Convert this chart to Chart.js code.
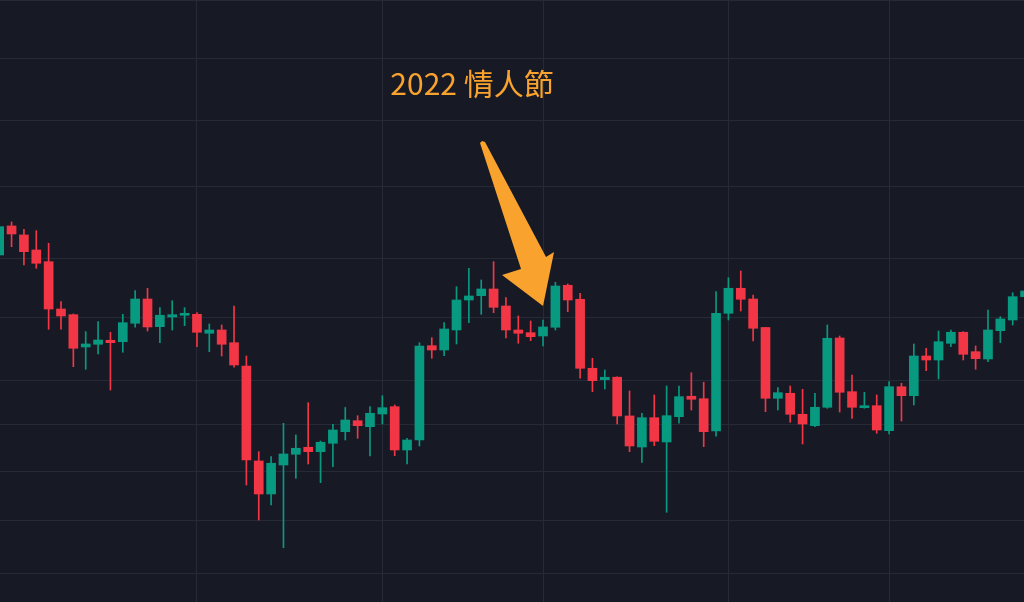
<!DOCTYPE html>
<html>
<head>
<meta charset="utf-8">
<script src="https://cdn.jsdelivr.net/npm/chart.js@4.4.1/dist/chart.umd.min.js"></script>
<style>
html,body{margin:0;padding:0;background:#171A25;overflow:hidden;}
#c{display:block;background:#171A25;}
</style>
</head>
<body>
<canvas id="c" width="1024" height="602"></canvas>
<script>
// ---- categories (daily candles, 2022) ----
const dates = [
 '01-01','01-02','01-03','01-04','01-05','01-06','01-07','01-08','01-09','01-10',
 '01-11','01-12','01-13','01-14','01-15','01-16','01-17','01-18','01-19','01-20',
 '01-21','01-22','01-23','01-24','01-25','01-26','01-27','01-28','01-29','01-30',
 '01-31','02-01','02-02','02-03','02-04','02-05','02-06','02-07','02-08','02-09',
 '02-10','02-11','02-12','02-13','02-14','02-15','02-16','02-17','02-18','02-19',
 '02-20','02-21','02-22','02-23','02-24','02-25','02-26','02-27','02-28','03-01',
 '03-02','03-03','03-04','03-05','03-06','03-07','03-08','03-09','03-10','03-11',
 '03-12','03-13','03-14','03-15','03-16','03-17','03-18','03-19','03-20','03-21',
 '03-22','03-23','03-24','03-25'
];
// ---- series values (OHLC) ----
const open = [
 46214,47789,47295,46481,45857,43418,43134,41555,41685,41877,
 41809,42709,43923,42541,43020,43105,43154,42218,42379,41761,
 40653,36428,35066,36260,36712,37010,36822,37181,37682,38163,
 37901,38460,38786,36894,37322,41617,41411,42379,43872,44091,
 44434,43570,42379,42247,42086,42512,44625,43908,40545,40014,
 40130,38372,37022,38296,37236,38341,39255,39146,37713,43204,
 44470,43923,42502,39164,39391,38447,37944,38759,41989,39464,
 38741,38831,37726,39692,39282,41125,40935,41733,42267,41330,
 40983,42345,42871,44040
];
const high = [
 47899,48010,47607,47530,46843,43786,43169,42296,42787,42267,
 43154,44346,44470,43484,43837,43484,43234,42674,42625,43570,
 41125,36822,36610,38049,37539,38966,37279,38006,38750,38385,
 38786,39282,38862,37396,41761,42003,42738,44552,45509,44898,
 45857,43989,43070,42822,42871,44779,44692,44214,41016,40465,
 40150,39496,38491,39314,39725,39725,40339,39894,44295,45018,
 45367,44127,42502,39647,39725,39573,39391,42625,42086,40233,
 39437,39314,39922,39849,41699,41493,42330,42379,42296,41603,
 43368,43036,44244,44500
];
const low = [
 46107,46659,45683,45509,42413,42413,40620,40498,41221,39541,
 41302,42512,42330,41761,42379,42591,41569,41330,41125,40592,
 35433,34028,34624,32958,35707,36302,35527,36189,37322,37396,
 36640,38019,36652,36302,37065,41016,41140,41699,42738,43154,
 43234,41989,41733,41857,41603,42379,43284,40079,39464,39587,
 38019,36822,36365,37078,34333,38049,38638,37035,37483,42871,
 43318,41843,38563,38638,38093,37151,37901,38714,38549,38269,
 38714,37613,37582,38150,38862,40432,40047,41569,40935,40498,
 40855,41761,42625,43700
];
const close = [
 47750,47349,46390,45773,43418,43070,41493,41699,41891,41761,
 42738,43923,42527,43105,43134,43204,42267,42379,41685,40700,
 36470,35066,36332,36724,36967,36822,37224,37756,38194,37944,
 38491,38741,36894,37322,41603,41411,42428,43872,44076,44434,
 43504,42379,42218,42052,42527,44588,43872,40545,39968,40126,
 38372,37065,38296,37266,38385,39237,39119,37682,43204,44470,
 43908,42463,39164,39418,38447,38019,38759,41974,39437,38759,
 38831,37756,39692,39282,41125,40935,41809,42267,41206,40997,
 42379,42921,44040,44330
];
// ---- tick values (grid lines) ----
const priceGrid = [32000,34000,36000,38000,40000,43000,46000,50000,54000,58000,62000];
const dateGrid = ['01-17','02-01','02-14','03-01','03-14'];
const priceMin = 30953, priceMax = 62040;
const noteText = '2022 情人節';
const noteDate = '02-14';

const upColor = '#089981', downColor = '#F23645';
const noteColor = '#F9A22D';
const gridColor = '#262A36';
const colorOf = i => close[i] >= open[i] ? upColor : downColor;

const bodies = dates.map((d, i) => ({x: i, y: [open[i], close[i]]}));
const wicks  = dates.map((d, i) => ({x: i, y: [low[i], high[i]]}));

const notePlugin = {
  id: 'note',
  afterDatasetsDraw(chart) {
    const {ctx, scales: {x, y}} = chart;
    const i = dates.indexOf(noteDate);
    const tx = x.getPixelForValue(i);
    const ty = y.getPixelForValue(high[i]) - 14;
    ctx.save();
    ctx.fillStyle = noteColor;
    const pts = [[-63,-163],[-61,-165],[-58,-164],[3,-49],[11,-54],[0,0],[-41,-31],[-22,-37]];
    ctx.beginPath();
    pts.forEach((p, k) => { const px = tx + p[0], py = ty + p[1]; k ? ctx.lineTo(px, py) : ctx.moveTo(px, py); });
    ctx.closePath();
    ctx.fill();
    ctx.font = '30px "Noto Sans CJK TC", "Noto Sans CJK SC", sans-serif';
    ctx.textAlign = 'center';
    ctx.textBaseline = 'alphabetic';
    ctx.fillText(noteText, tx - 71, ty - 211);
    ctx.restore();
  }
};

new Chart(document.getElementById('c'), {
  type: 'bar',
  data: {
    datasets: [
      {data: bodies, backgroundColor: c => colorOf(c.dataIndex), barThickness: 9, grouped: false, minBarLength: 1, borderWidth: 0},
      {data: wicks,  backgroundColor: c => colorOf(c.dataIndex), barThickness: 1, grouped: false, borderWidth: 0}
    ]
  },
  options: {
    responsive: false,
    animation: false,
    devicePixelRatio: 1,
    layout: {padding: 0},
    plugins: {legend: {display: false}, tooltip: {enabled: false}},
    scales: {
      x: {
        type: 'linear', min: 0.065, max: 82.915, offset: false,
        grid: {color: gridColor, drawTicks: false, offset: false},
        border: {display: false},
        ticks: {display: false},
        afterBuildTicks: s => { s.ticks = dateGrid.map(d => ({value: dates.indexOf(d)})); },
        afterFit: s => { s.height = 0; }
      },
      y: {
        type: 'logarithmic', min: priceMin, max: priceMax,
        grid: {color: gridColor, drawTicks: false},
        border: {display: false},
        ticks: {display: false},
        afterBuildTicks: s => { s.ticks = priceGrid.map(v => ({value: v})); },
        afterFit: s => { s.width = 0; }
      }
    }
  },
  plugins: [notePlugin]
});
</script>
</body>
</html>
